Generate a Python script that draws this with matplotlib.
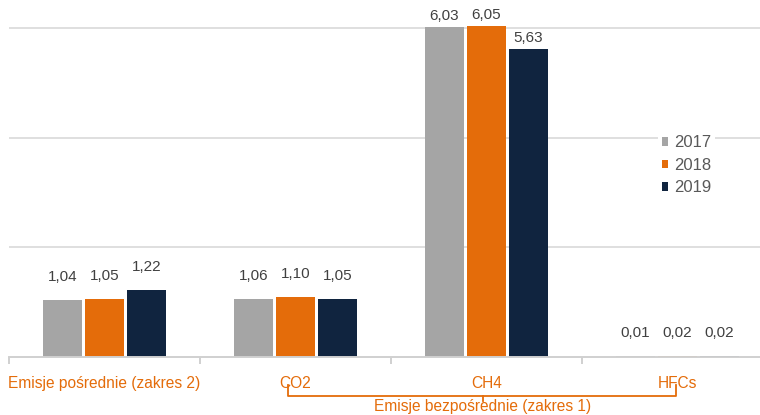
import matplotlib.pyplot as plt
import numpy as np

plt.rcParams['font.family'] = ['Liberation Sans', 'DejaVu Sans']

categories = ['Emisje pośrednie (zakres 2)', 'CO2', 'CH4', 'HFCs']
years = ['2017', '2018', '2019']
v2017 = [1.04, 1.06, 6.03, 0.01]
v2018 = [1.05, 1.10, 6.05, 0.02]
v2019 = [1.22, 1.05, 5.63, 0.02]
colors = ['#A5A5A5', '#E46C0A', '#10243F']
orange = '#E46C0A'


def main():
    fig = plt.figure(figsize=(7.6, 4.15), dpi=100)
    # axes runs slightly past the right edge, like the cropped original
    ax = fig.add_axes([9 / 760, 58 / 415, 764 / 760, 356 / 415])

    x = np.arange(len(categories))
    width = 0.2
    step = 0.22
    series = [v2017, v2018, v2019]
    for i, (vals, year, c) in enumerate(zip(series, years, colors)):
        pos = x + (i - 1) * step
        ax.bar(pos, vals, width, color=c, label=year, zorder=2)
        for p, v in zip(pos, vals):
            # labels of the tall bars sit closer, squeezed under the top
            off = 0.2 if v > 5 else 0.42
            ax.text(p, v + off, '{:.2f}'.format(v).replace('.', ','),
                    ha='center', va='center', fontsize=11, color='#404040')

    ax.set_xlim(-0.5, 3.5)
    ax.set_ylim(0, 6.5)
    ax.set_yticks([2, 4, 6])
    ax.yaxis.grid(True, color='#D9D9D9', linewidth=1.2, zorder=0)
    ax.tick_params(axis='y', length=0, labelleft=False)
    for s in ['top', 'right', 'left']:
        ax.spines[s].set_visible(False)
    ax.spines['bottom'].set_color('#D0D0D0')
    ax.spines['bottom'].set_linewidth(1.4)
    ax.spines['bottom'].set_zorder(2.5)

    ax.set_xticks([-0.5, 0.5, 1.5, 2.5, 3.5])
    ax.tick_params(axis='x', length=5, width=1.2, color='#C8C8C8',
                   labelbottom=False)
    for xi, name in zip(x, categories):
        ax.annotate(name, (xi, 0), xytext=(0, -14), textcoords='offset points',
                    ha='center', va='top', fontsize=11.2, color=orange,
                    annotation_clip=False)

    # bracket under the direct-emission categories
    tr = ax.get_xaxis_transform()
    yb_top = -28 / 356
    yb = -39 / 356
    yb_mid = -44 / 356
    ax.plot([0.96, 0.96, 2.99, 2.99], [yb_top, yb, yb, yb_top], color=orange,
            linewidth=1.3, transform=tr, clip_on=False)
    ax.plot([1.98, 1.98], [yb, yb_mid], color=orange, linewidth=1.3,
            transform=tr, clip_on=False)
    ax.text(1.98, yb - 3 / 356, 'Emisje bezpośrednie (zakres 1)', transform=tr,
            ha='center', va='top', fontsize=11.2, color=orange)

    leg = ax.legend(loc='upper left', bbox_to_anchor=(641 / 764, 0.655),
                    frameon=True, fontsize=12, handlelength=0.4,
                    handleheight=0.4, handletextpad=0.35, labelspacing=0.45,
                    borderpad=0.2, labelcolor='#595959')
    leg.get_frame().set_edgecolor('none')
    leg.get_frame().set_facecolor('white')
    leg.get_frame().set_alpha(1)
    leg.set_zorder(5)

    fig.savefig('out.png', dpi=100)


if __name__ == '__main__':
    main()
